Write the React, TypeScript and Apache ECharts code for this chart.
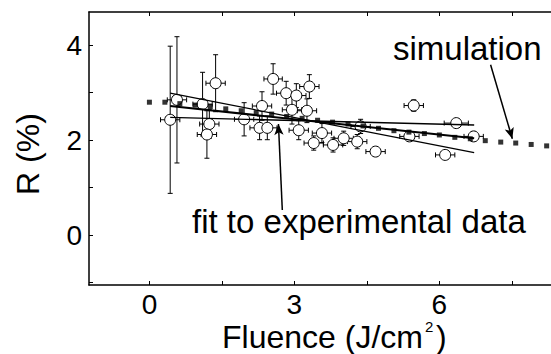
import React, { useEffect, useRef } from 'react';
import * as echarts from 'echarts';

// Simulation (filled squares)
const simX = [0, 0.32, 0.63, 0.95, 1.26, 1.58, 1.9, 2.21, 2.53, 2.84, 3.16, 3.48, 3.79, 4.11, 4.42, 4.74, 5.06, 5.37, 5.69, 6.0, 6.32, 6.64, 6.95, 7.27, 7.58, 7.9, 8.22];
const simY = [2.8, 2.8, 2.77, 2.74, 2.71, 2.66, 2.62, 2.58, 2.55, 2.5, 2.46, 2.42, 2.38, 2.34, 2.3, 2.25, 2.2, 2.17, 2.14, 2.11, 2.06, 2.03, 1.99, 1.96, 1.94, 1.91, 1.88];

// Experimental data (open circles with error bars)
const expX = [0.43, 0.57, 1.37, 1.1, 1.24, 1.19, 2.56, 2.83, 3.04, 3.31, 2.33, 1.96, 2.28, 2.44, 2.95, 3.26, 3.09, 3.57, 3.4, 3.8, 4.37, 4.02, 4.3, 4.68, 5.47, 5.38, 6.35, 6.12, 6.71];
const expY = [2.43, 2.85, 3.2, 2.76, 2.34, 2.12, 3.29, 2.99, 2.94, 3.13, 2.72, 2.44, 2.26, 2.26, 2.64, 2.62, 2.21, 2.15, 1.94, 1.9, 2.29, 2.04, 1.97, 1.76, 2.73, 2.08, 2.36, 1.69, 2.08];
const expXErr = [0.2, 0.2, 0.2, 0.2, 0.2, 0.2, 0.19, 0.2, 0.2, 0.2, 0.2, 0.2, 0.2, 0.2, 0.2, 0.2, 0.2, 0.2, 0.2, 0.2, 0.2, 0.2, 0.2, 0.2, 0.2, 0.2, 0.25, 0.2, 0.2];
const expYErr = [1.55, 1.33, 0.6, 0.67, 0.3, 0.5, 0.32, 0.25, 0.25, 0.25, 0.3, 0.35, 0.25, 0.25, 0.3, 0.25, 0.2, 0.2, 0.15, 0.15, 0.15, 0.15, 0.15, 0.08, 0.12, 0.1, 0.08, 0.06, 0.1];

// Linear fit and its slope bounds
const fitX = [0.43, 6.72];
const fitMid = [2.72, 2.04];
const fitSteep = [2.99, 1.74];
const fitFlat = [2.48, 2.32];

// Axis ticks
const xLabels = [0, 3, 6];
const xTicks = [0, 1.5, 3, 4.5, 6, 7.5];
const yLabels = [0, 2, 4];
const yTicks = [-1, 0, 1, 2, 3, 4];

const FONT = 'Liberation Sans, Arial, Helvetica, sans-serif';

export default function App() {
  const ref = useRef<HTMLDivElement>(null);
  useEffect(() => {
    if (!ref.current) return;
    const chart = echarts.init(ref.current, null, { renderer: 'svg' });
    const errData = expX.map((x, i) => [x, expY[i], expXErr[i], expYErr[i]]);
    const line = (ys: number[], w: number) => ({
      type: 'line',
      data: fitX.map((x, i) => [x, ys[i]]),
      symbol: 'none',
      lineStyle: { color: '#000', width: w },
      z: 4,
      silent: true,
    });
    const axisLineStyle = { color: '#000', width: 1.5 };
    const xMin = -1.25, xMax = 8.31;
    chart.setOption({
      animation: false,
      backgroundColor: '#fff',
      grid: { left: 89, top: 12, bottom: 69, right: 0, containLabel: false, outerBoundsMode: 'none' },
      xAxis: [
        {
          type: 'value', min: xMin, max: xMax, position: 'bottom',
          axisLine: { show: true, onZero: false, lineStyle: axisLineStyle },
          axisTick: { show: true, inside: true, length: 4, customValues: xTicks, lineStyle: { color: '#000', width: 1 } },
          axisLabel: { customValues: xLabels, fontSize: 28, color: '#000', fontFamily: FONT, margin: 5 },
          splitLine: { show: false },
        },
        {
          type: 'value', min: xMin, max: xMax, position: 'top',
          axisLine: { show: true, onZero: false, lineStyle: axisLineStyle },
          axisTick: { show: true, inside: true, length: 4, customValues: xTicks, lineStyle: { color: '#000', width: 1 } },
          axisLabel: { show: false },
          splitLine: { show: false },
        },
      ],
      yAxis: [
        {
          type: 'value', min: -1.05, max: 4.7,
          axisLine: { show: true, onZero: false, lineStyle: axisLineStyle },
          axisTick: { show: true, inside: true, length: 4, customValues: yTicks, lineStyle: { color: '#000', width: 1 } },
          axisLabel: { customValues: yLabels, fontSize: 28, color: '#000', fontFamily: FONT, margin: 7 },
          splitLine: { show: false },
        },
      ],
      graphic: [
        { type: 'text', x: 28, y: 154, rotation: Math.PI / 2, style: { text: 'R (%)', fontSize: 32, fontFamily: FONT, fill: '#000', align: 'center', verticalAlign: 'middle' } },
        { type: 'text', x: 222, y: 337, style: { text: 'Fluence (J/cm', fontSize: 32, fontFamily: FONT, fill: '#000', align: 'left', verticalAlign: 'middle' } },
        { type: 'text', x: 425, y: 326, style: { text: '2', fontSize: 15, fontFamily: FONT, fill: '#000', align: 'left', verticalAlign: 'middle' } },
        { type: 'text', x: 436, y: 337, style: { text: ')', fontSize: 32, fontFamily: FONT, fill: '#000', align: 'left', verticalAlign: 'middle' } },
        { type: 'text', x: 393, y: 48, style: { text: 'simulation', fontSize: 33, fontFamily: FONT, fill: '#000', align: 'left', verticalAlign: 'middle' } },
        { type: 'text', x: 192, y: 221, style: { text: 'fit to experimental data', fontSize: 33, fontFamily: FONT, fill: '#000', align: 'left', verticalAlign: 'middle' } },
      ],
      series: [
        {
          type: 'custom',
          name: 'errors',
          data: errData,
          z: 2,
          silent: true,
          renderItem: (params: any, api: any) => {
            const x = api.value(0), y = api.value(1), ex = api.value(2), ey = api.value(3);
            const top = api.coord([x, y + ey]);
            const bot = api.coord([x, y - ey]);
            const l = api.coord([x - ex, y]);
            const r = api.coord([x + ex, y]);
            const cap = 2.5;
            const st = { stroke: '#000', lineWidth: 1 };
            const seg = (x1: number, y1: number, x2: number, y2: number) => ({ type: 'line', shape: { x1, y1, x2, y2 }, style: st });
            return {
              type: 'group',
              children: [
                seg(top[0], top[1], bot[0], bot[1]),
                seg(top[0] - cap, top[1], top[0] + cap, top[1]),
                seg(bot[0] - cap, bot[1], bot[0] + cap, bot[1]),
                seg(l[0], l[1], r[0], r[1]),
                seg(l[0], l[1] - cap, l[0], l[1] + cap),
                seg(r[0], r[1] - cap, r[0], r[1] + cap),
              ],
            };
          },
        },
        {
          type: 'scatter',
          name: 'experiment',
          data: expX.map((x, i) => [x, expY[i]]),
          symbol: 'circle',
          symbolSize: 11,
          itemStyle: { color: '#fff', borderColor: '#000', borderWidth: 1, opacity: 1 },
          z: 3,
          silent: true,
        },
        line(fitSteep, 1.3),
        line(fitFlat, 1.3),
        {
          ...line(fitMid, 2),
          markLine: {
            silent: true,
            symbol: ['none', 'arrow'],
            symbolSize: [7, 11],
            label: { show: false },
            lineStyle: { color: '#000', width: 1.5, type: 'solid' },
            data: [
              [{ coord: [2.75, 0.53] }, { coord: [2.67, 2.34] }],
              [{ coord: [7.06, 3.59] }, { coord: [7.51, 2.03] }],
            ],
          },
        },
        {
          type: 'scatter',
          name: 'simulation',
          data: simX.map((x, i) => [x, simY[i]]),
          symbol: 'rect',
          symbolSize: 5,
          itemStyle: { color: '#000' },
          z: 5,
          silent: true,
        },
      ],
    });
    return () => chart.dispose();
  }, []);
  return <div ref={ref} style={{ position: 'fixed', left: 0, top: 0, width: 551, height: 354 }} />;
}
